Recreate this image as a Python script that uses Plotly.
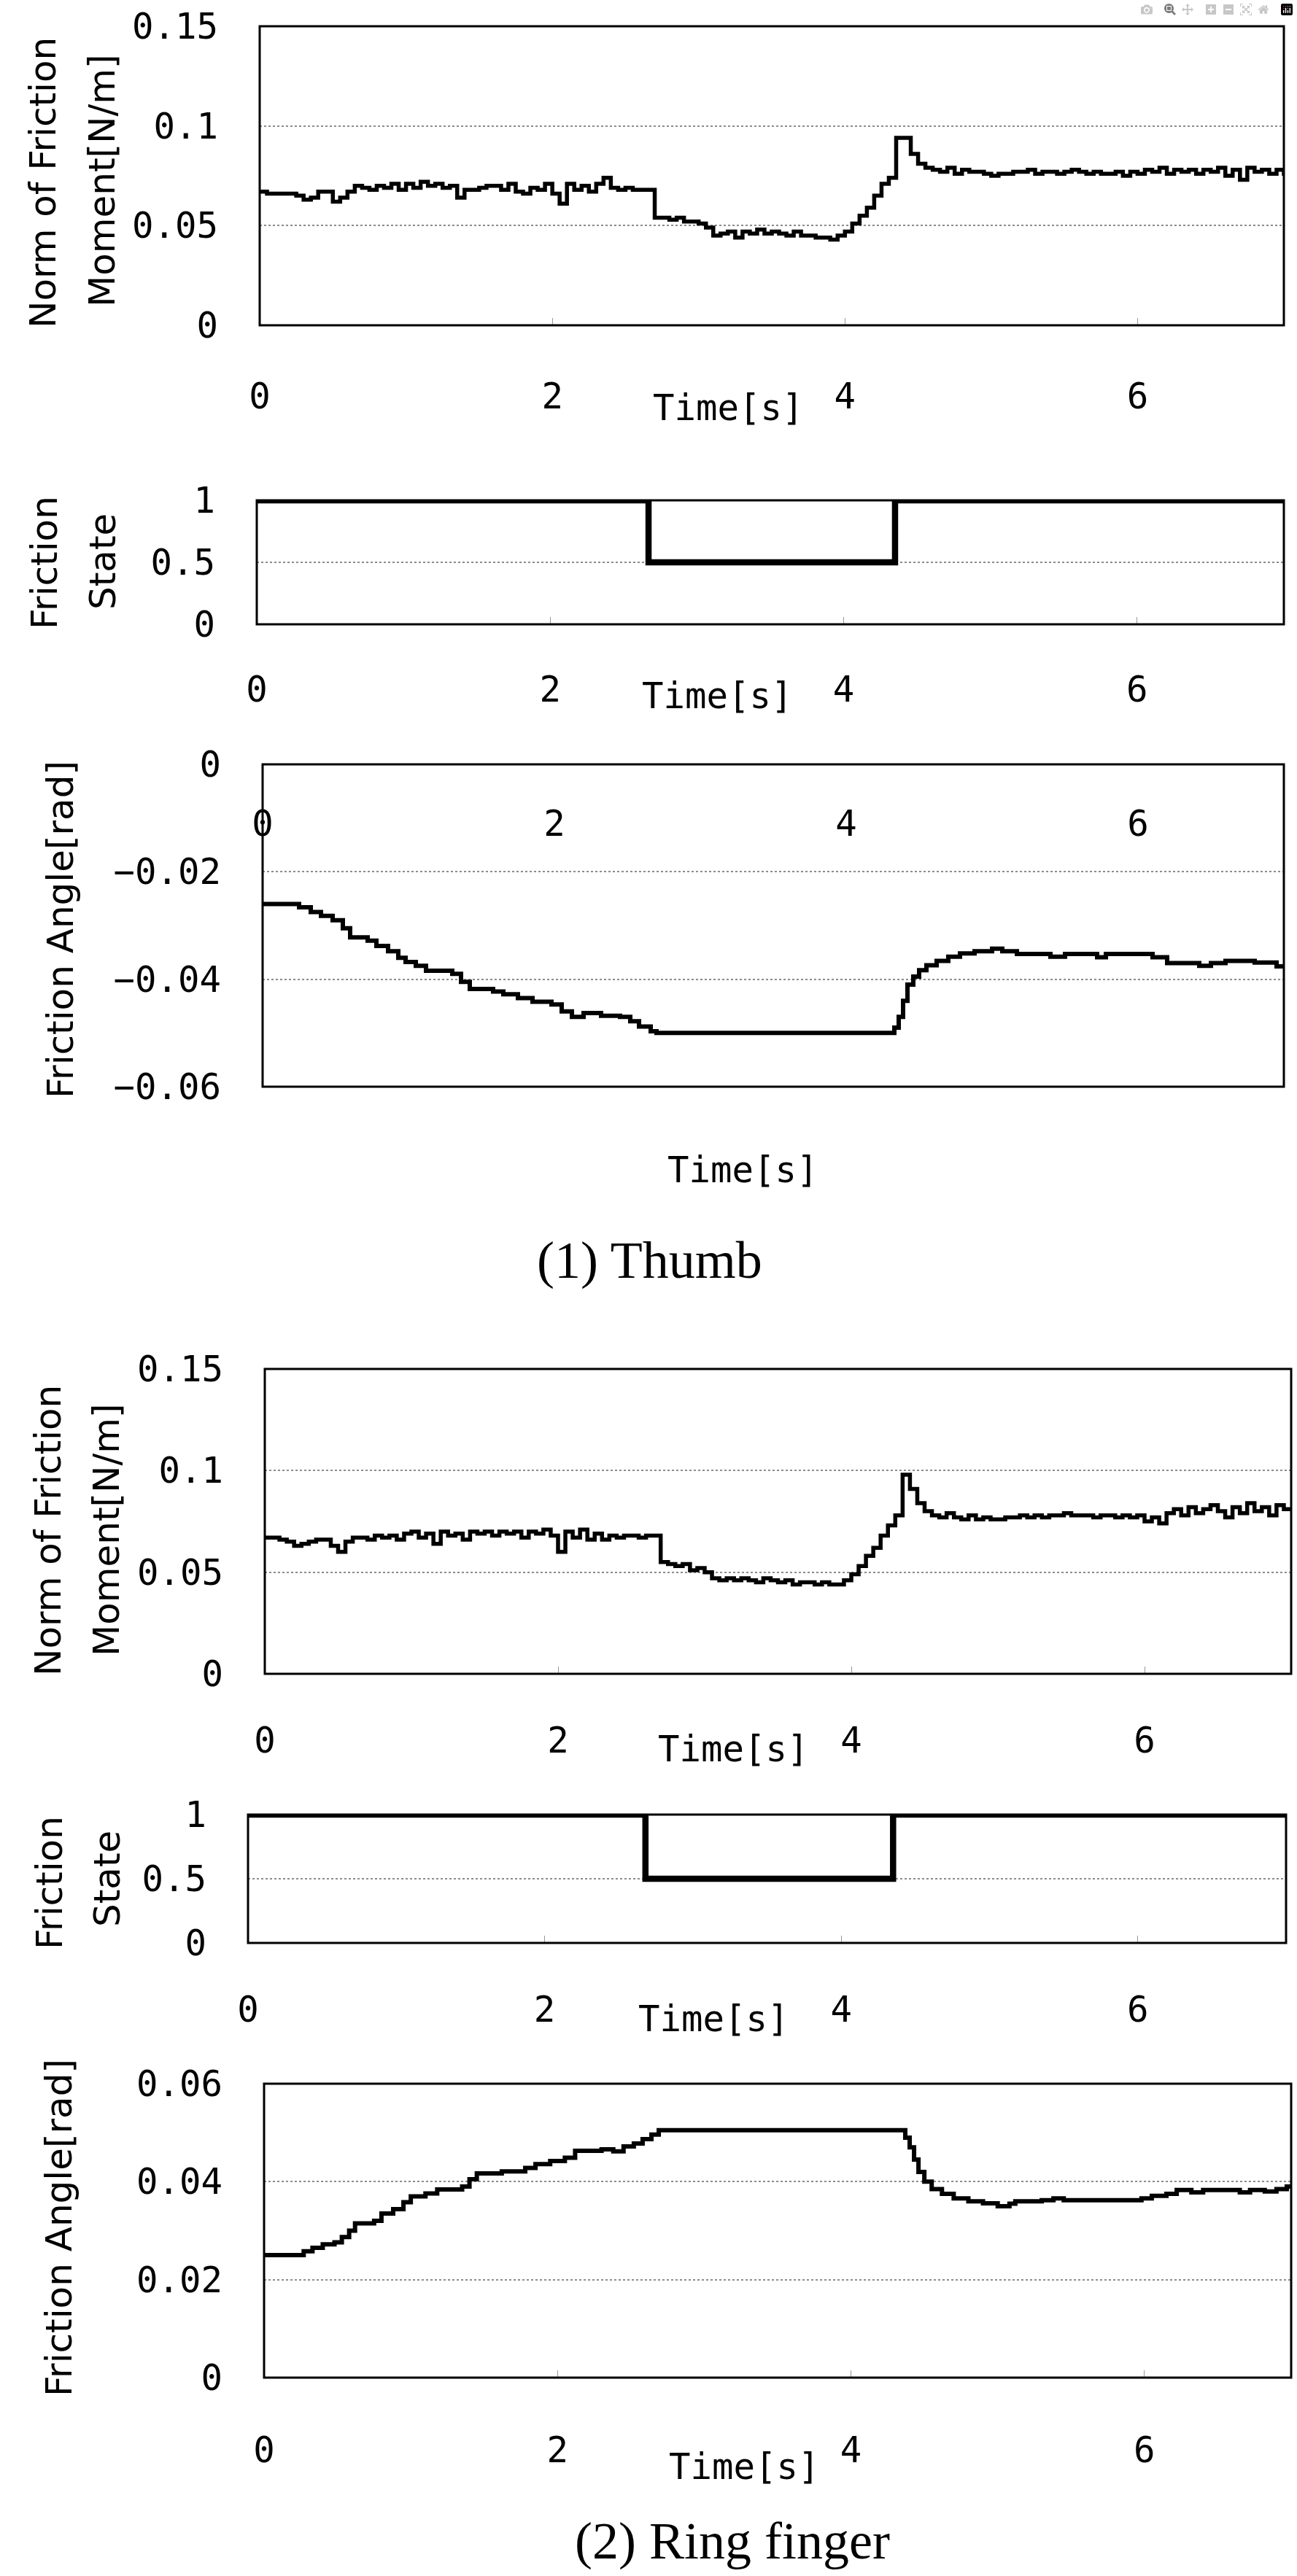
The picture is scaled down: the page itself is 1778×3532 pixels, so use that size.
import plotly.graph_objects as go

W, H = 1778, 3532

# ---------------- data ----------------
t_moment = [round(0.05 * i, 2) for i in range(141)]

thumb_moment = [
    .067, .066, .066, .066, .066, .065, .063, .064, .067, .067,
    .062, .064, .067, .070, .069, .068, .070, .069, .071, .068,
    .071, .069, .072, .070, .071, .069, .070, .064, .068, .068,
    .069, .070, .070, .068, .071, .067, .066, .069, .068, .071,
    .066, .061, .071, .068, .070, .067, .071, .074, .069, .068,
    .069, .068, .068, .068, .054, .054, .053, .054, .052, .052,
    .051, .049, .045, .046, .047, .044, .047, .046, .048, .046,
    .047, .046, .045, .047, .045, .045, .044, .044, .043, .045,
    .047, .051, .055, .059, .065, .071, .074, .094, .094, .086,
    .081, .079, .078, .077, .079, .076, .078, .077, .077, .076,
    .075, .076, .076, .077, .077, .078, .076, .077, .077, .076,
    .077, .078, .077, .076, .077, .076, .076, .077, .075, .077,
    .076, .078, .077, .079, .076, .078, .077, .078, .076, .078,
    .077, .079, .075, .078, .073, .079, .077, .078, .076, .078,
    .075,
]

ring_moment = [
    .067, .067, .066, .065, .063, .064, .065, .066, .066, .063,
    .060, .065, .067, .067, .066, .068, .067, .068, .066, .069,
    .070, .067, .069, .064, .070, .068, .069, .066, .070, .069,
    .070, .068, .070, .069, .070, .067, .070, .069, .071, .068,
    .060, .070, .067, .071, .066, .069, .066, .068, .067, .068,
    .068, .067, .068, .068, .055, .054, .053, .054, .051, .052,
    .050, .047, .046, .047, .046, .047, .046, .045, .047, .046,
    .045, .046, .044, .045, .045, .044, .045, .044, .044, .046,
    .049, .053, .058, .062, .068, .073, .078, .098, .091, .084,
    .080, .078, .077, .079, .077, .076, .078, .076, .077, .076,
    .076, .077, .077, .078, .077, .078, .077, .078, .078, .079,
    .078, .078, .078, .077, .078, .078, .077, .078, .077, .078,
    .075, .077, .074, .079, .081, .078, .082, .079, .081, .083,
    .080, .077, .082, .079, .084, .080, .082, .078, .083, .081,
    .082,
]

thumb_state_t = [0.0, 2.67, 4.35, 7.0]
thumb_state = [1.0, 0.5, 1.0, 1.0]
ring_state_t = [0.0, 2.68, 4.35, 7.0]
ring_state = [1.0, 0.5, 1.0, 1.0]

thumb_angle_t = [
    0.0, 0.25, 0.33, 0.40, 0.48, 0.55, 0.60, 0.72, 0.78, 0.86,
    0.93, 0.98, 1.05, 1.12, 1.30, 1.36, 1.42, 1.58, 1.65, 1.75,
    1.85, 1.98, 2.05, 2.12, 2.20, 2.32, 2.45, 2.52, 2.58, 2.66,
    2.70, 4.33, 4.36, 4.39, 4.42, 4.46, 4.50, 4.55, 4.62, 4.70,
    4.78, 4.88, 5.00, 5.07, 5.17, 5.40, 5.50, 5.72, 5.78, 6.10,
    6.20, 6.42, 6.50, 6.60, 6.80, 6.95, 7.0,
]
thumb_angle = [
    -0.0260, -0.0266, -0.0275, -0.0282, -0.0290, -0.0305, -0.0322, -0.0328, -0.0338, -0.0348,
    -0.0360, -0.0368, -0.0375, -0.0384, -0.0390, -0.0405, -0.0418, -0.0423, -0.0428, -0.0435,
    -0.0442, -0.0447, -0.0460, -0.0470, -0.0463, -0.0468, -0.0470, -0.0478, -0.0488, -0.0497,
    -0.0500, -0.0490, -0.0470, -0.0440, -0.0410, -0.0395, -0.0383, -0.0374, -0.0366, -0.0358,
    -0.0352, -0.0348, -0.0343, -0.0348, -0.0353, -0.0358, -0.0353, -0.0359, -0.0353, -0.0359,
    -0.0370, -0.0375, -0.0370, -0.0366, -0.0369, -0.0376, -0.0376,
]

ring_angle_t = [
    0.0, 0.27, 0.33, 0.40, 0.48, 0.53, 0.58, 0.62, 0.75, 0.80,
    0.88, 0.95, 1.00, 1.10, 1.18, 1.35, 1.40, 1.45, 1.62, 1.78,
    1.85, 1.95, 2.05, 2.12, 2.30, 2.38, 2.45, 2.52, 2.58, 2.64,
    2.69, 4.37, 4.40, 4.43, 4.46, 4.50, 4.55, 4.62, 4.70, 4.80,
    4.90, 5.00, 5.08, 5.12, 5.30, 5.38, 5.45, 5.98, 6.05, 6.15,
    6.22, 6.32, 6.40, 6.65, 6.72, 6.82, 6.90, 6.97, 7.0,
]
ring_angle = [
    0.0250, 0.0258, 0.0265, 0.0272, 0.0276, 0.0287, 0.0300, 0.0315, 0.0320, 0.0335,
    0.0344, 0.0358, 0.0370, 0.0376, 0.0384, 0.0390, 0.0405, 0.0417, 0.0421, 0.0428,
    0.0436, 0.0442, 0.0449, 0.0463, 0.0466, 0.0462, 0.0472, 0.0478, 0.0487, 0.0496,
    0.0505, 0.0490, 0.0470, 0.0445, 0.0420, 0.0400, 0.0385, 0.0375, 0.0366, 0.0360,
    0.0356, 0.0350, 0.0355, 0.0360, 0.0362, 0.0366, 0.0362, 0.0366, 0.0371, 0.0375,
    0.0383, 0.0378, 0.0383, 0.0378, 0.0383, 0.0380, 0.0385, 0.0390, 0.0390,
]

x_ticks = [0, 2, 4, 6]
moment_ticks = [0, 0.05, 0.1, 0.15]
state_ticks = [0, 0.5, 1]
thumb_angle_ticks = [-0.06, -0.04, -0.02, 0]
ring_angle_ticks = [0, 0.02, 0.04, 0.06]

# ---------------- layout helpers ----------------
TICK_FONT = dict(family="DejaVu Sans Mono, Liberation Mono, monospace", size=49, color="black")
TITLE_FONT = dict(family="DejaVu Sans, Arial, sans-serif", size=50, color="black")
CAP_FONT = dict(family="Liberation Serif, Times New Roman, serif", size=72, color="black")

# panel boxes in pixels: x0, x1, ytop, ybottom ; xs = standoff of time labels
panels = [
    dict(x=(356, 1760), y=(36, 446), rng=[0, 0.15], ticks=moment_ticks, xs=64,
         tx=t_moment, ty=thumb_moment, w=5.5),
    dict(x=(352, 1760), y=(686, 856), rng=[0, 1], ticks=state_ticks, xs=56,
         tx=thumb_state_t, ty=thumb_state, w=8.5),
    dict(x=(360, 1760), y=(1048, 1490), rng=[-0.06, 0], ticks=thumb_angle_ticks, xs=0,
         tx=thumb_angle_t, ty=thumb_angle, w=6),
    dict(x=(363, 1770), y=(1877, 2295), rng=[0, 0.15], ticks=moment_ticks, xs=58,
         tx=t_moment, ty=ring_moment, w=5.5),
    dict(x=(340, 1763), y=(2488, 2664), rng=[0, 1], ticks=state_ticks, xs=58,
         tx=ring_state_t, ty=ring_state, w=8.5),
    dict(x=(362, 1770), y=(2857, 3260), rng=[0, 0.06], ticks=ring_angle_ticks, xs=66,
         tx=ring_angle_t, ty=ring_angle, w=6),
]

fig = go.Figure()
shapes = []
layout = {}
for i, p in enumerate(panels, start=1):
    sfx = "" if i == 1 else str(i)
    xa, ya = "x" + sfx, "y" + sfx
    fig.add_trace(go.Scatter(
        x=p["tx"], y=p["ty"], mode="lines",
        line=dict(color="black", width=p["w"], shape="hv"),
        xaxis=xa, yaxis=ya, showlegend=False, hoverinfo="skip"))
    xdom = [p["x"][0] / W, p["x"][1] / W]
    ydom = [1 - p["y"][1] / H, 1 - p["y"][0] / H]
    xax = dict(domain=xdom, range=[0, 7], tickvals=x_ticks, showgrid=False,
               zeroline=False, showline=False, tickfont=TICK_FONT, automargin=False,
               ticks="inside", ticklen=10, tickwidth=1, tickcolor="#999999",
               ticklabelstandoff=p["xs"], anchor=ya)
    if i == 3:
        # time labels sit just under the y=0 line (top edge of this panel)
        xax.update(anchor="free", position=1 - (p["y"][0] + 44) / H,
                   ticks="", ticklabelstandoff=4)
    yax = dict(domain=ydom, range=p["rng"], tickvals=p["ticks"], showgrid=True,
               griddash="dot", gridcolor="#8c8c8c", gridwidth=2, zeroline=False,
               showline=False, ticks="", tickfont=TICK_FONT, automargin=False,
               ticklabelstandoff=56, anchor=xa)
    layout["xaxis" + sfx] = xax
    layout["yaxis" + sfx] = yax
    shapes.append(dict(type="rect", xref=xa + " domain", yref=ya + " domain",
                       x0=0, x1=1, y0=0, y1=1, layer="above",
                       line=dict(color="black", width=3)))


def ann(text, px, py, font, angle=0):
    return dict(text=text, x=px / W, y=1 - py / H, xref="paper", yref="paper",
                xanchor="center", yanchor="middle", showarrow=False,
                textangle=angle, font=font)


annotations = [
    ann("Norm of Friction", 59, 251, TITLE_FONT, -90),
    ann("Moment[N/m]", 140, 248, TITLE_FONT, -90),
    ann("Friction", 61, 772, TITLE_FONT, -90),
    ann("State", 141, 770, TITLE_FONT, -90),
    ann("Friction Angle[rad]", 83, 1275, TITLE_FONT, -90),
    ann("Norm of Friction", 66, 2099, TITLE_FONT, -90),
    ann("Moment[N/m]", 146, 2098, TITLE_FONT, -90),
    ann("Friction", 68, 2582, TITLE_FONT, -90),
    ann("State", 147, 2576, TITLE_FONT, -90),
    ann("Friction Angle[rad]", 81, 3055, TITLE_FONT, -90),
    ann("Time[s]", 998, 560, TICK_FONT),
    ann("Time[s]", 984, 955, TICK_FONT),
    ann("Time[s]", 1018, 1605, TICK_FONT),
    ann("Time[s]", 1005, 2398, TICK_FONT),
    ann("Time[s]", 978, 2768, TICK_FONT),
    ann("Time[s]", 1020, 3382, TICK_FONT),
    ann("(1) Thumb", 890, 1728, CAP_FONT),
    ann("(2) Ring finger", 1004, 3484, CAP_FONT),
]

fig.update_layout(
    width=W, height=H, margin=dict(l=0, r=0, t=0, b=0, autoexpand=False),
    paper_bgcolor="white", plot_bgcolor="white",
    shapes=shapes, annotations=annotations, **layout)

fig.write_html("out.html", post_script="document.body.style.margin='0';")
